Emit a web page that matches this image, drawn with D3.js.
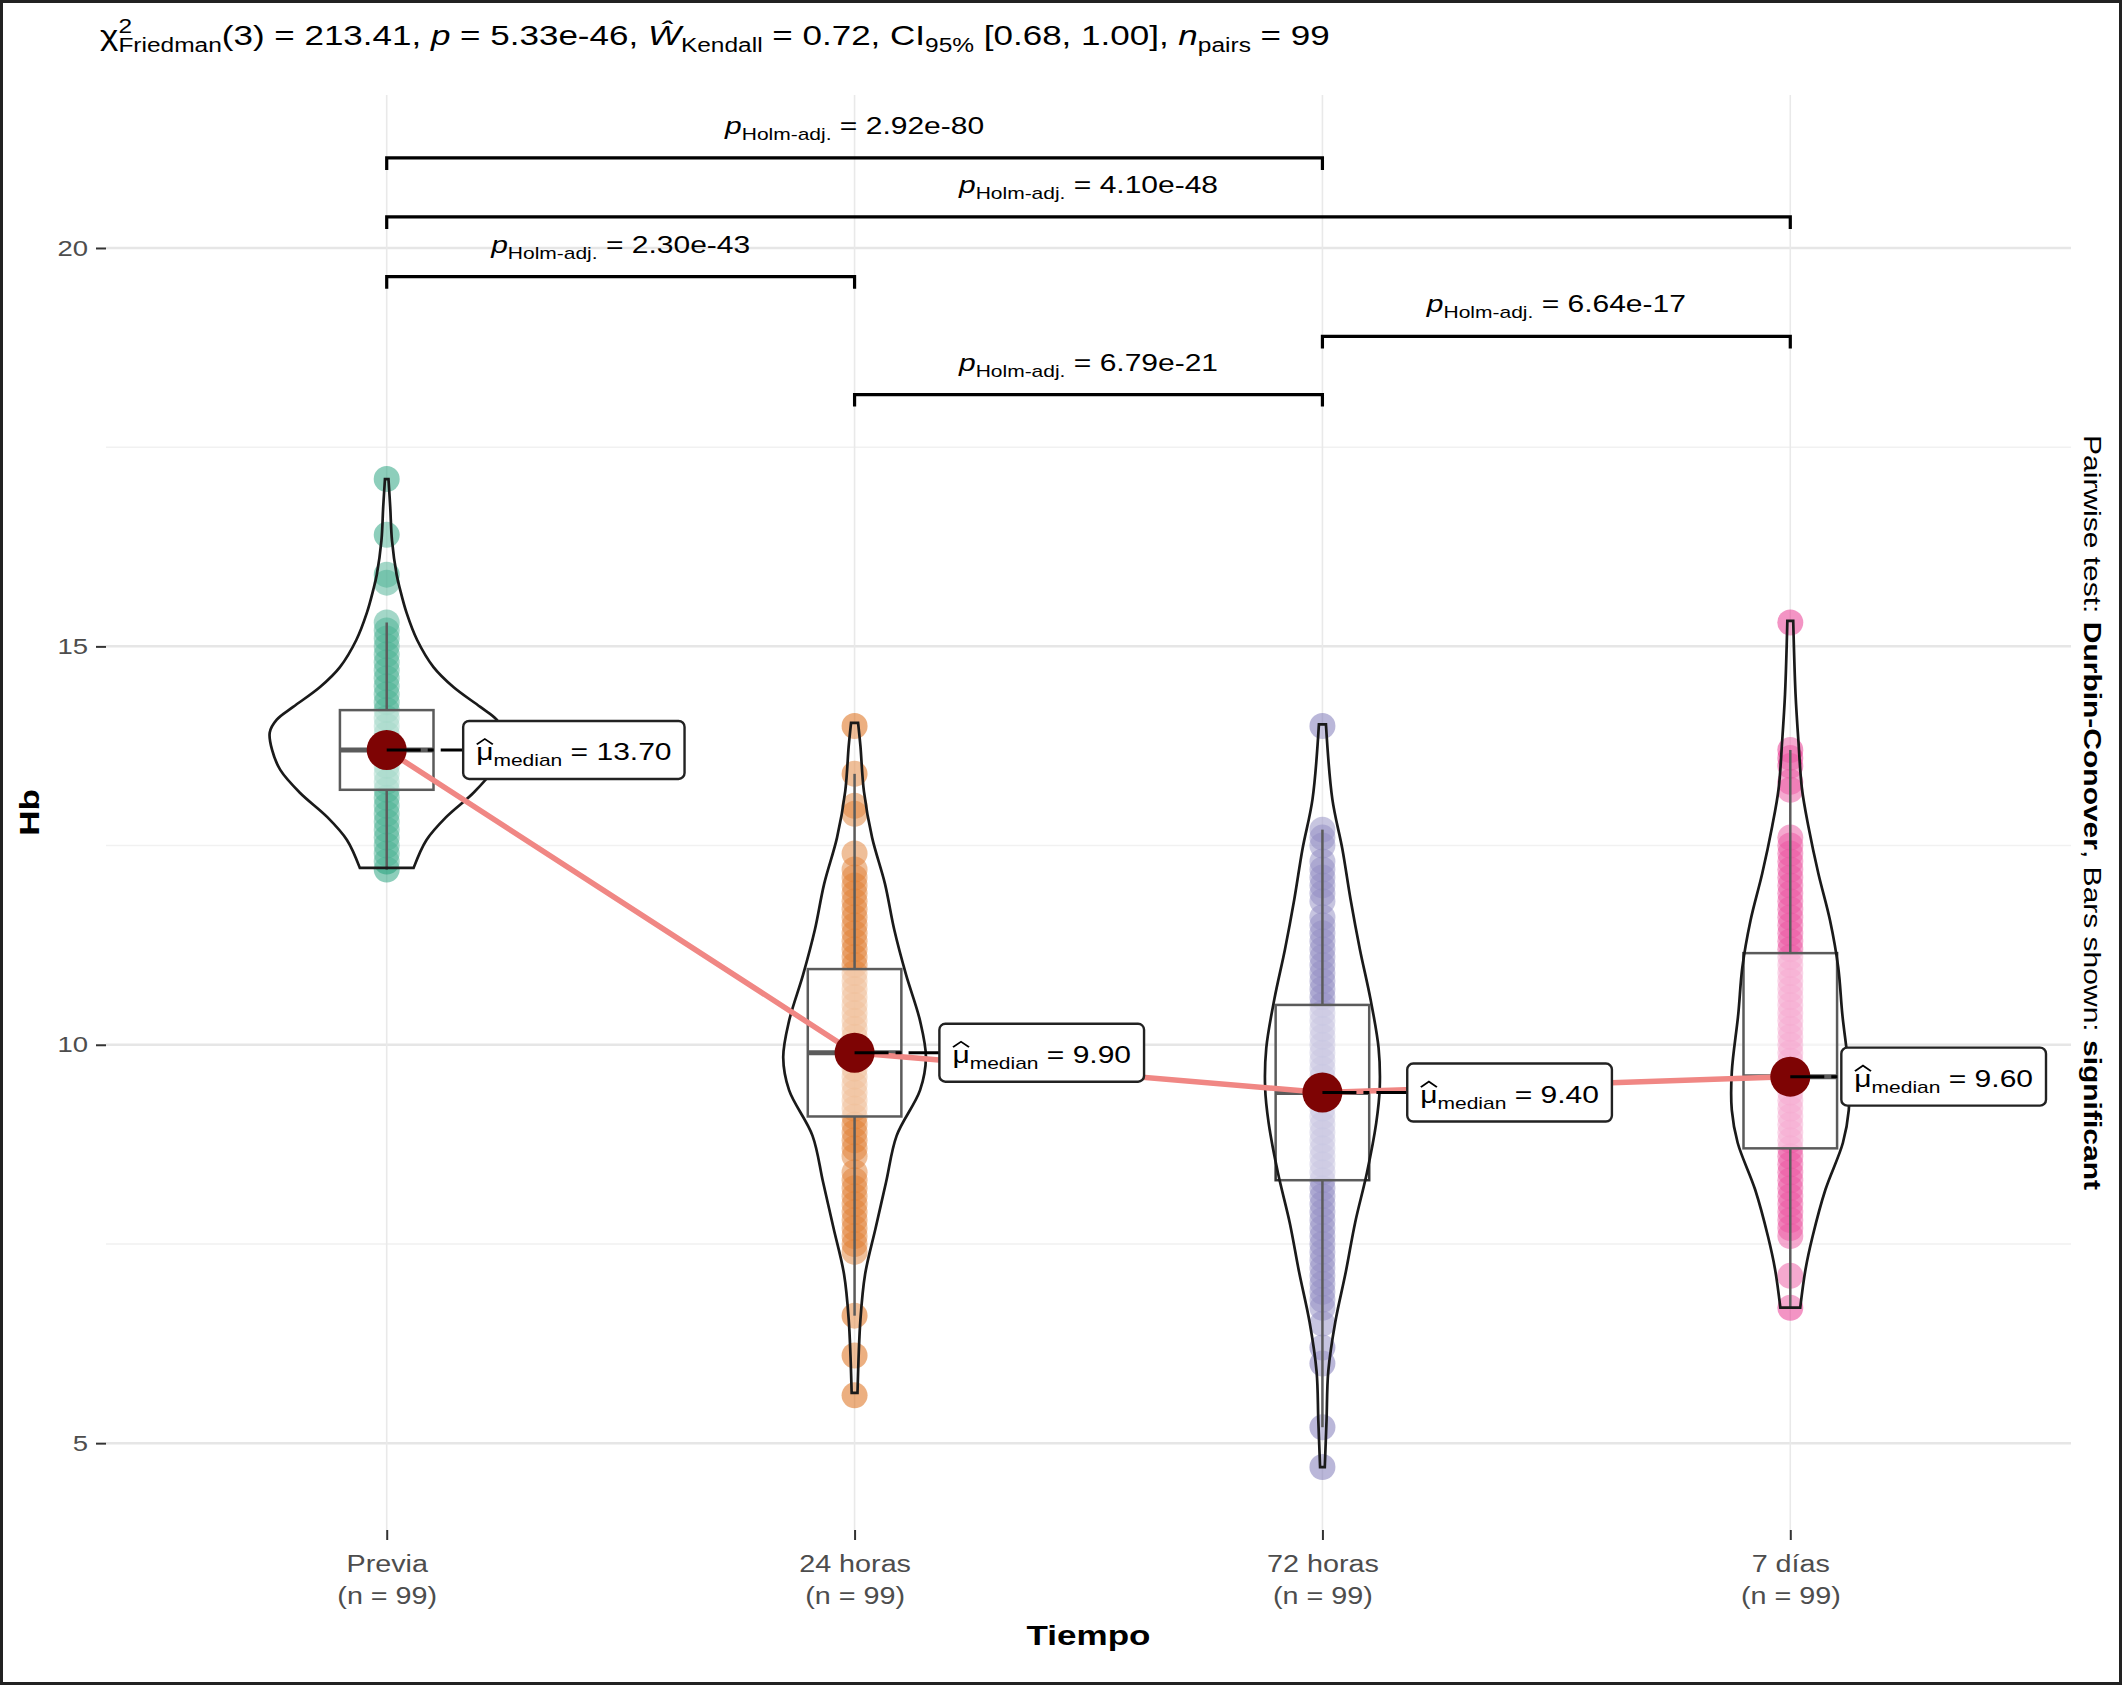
<!DOCTYPE html>
<html>
<head>
<meta charset="utf-8">
<script src="https://cdn.jsdelivr.net/npm/d3@7"></script>
<style>
  body { margin: 0; background: #fff; }
  text { white-space: pre; }
</style>
</head>
<body>
<svg id="chart"></svg>
<script>
// ---- data ----
const groups = ['Previa', '24 horas', '72 horas', '7 días'];
const nObs = [99, 99, 99, 99];
const medians = [13.7, 9.9, 9.4, 9.6];
const q1 = [13.2, 9.1, 8.3, 8.7];
const q3 = [14.2, 10.95, 10.5, 11.15];
const whiskerLo = [12.2, 6.6, 5.2, 6.7];
const whiskerHi = [15.3, 13.4, 12.7, 13.7];

// distinct Hb values seen as points in each group
const ptsPrevia = [12.2, 12.3, 12.4, 12.5, 12.6, 12.7, 12.8, 12.9, 13.0, 13.1, 13.2, 13.3, 13.4, 13.5,
  13.6, 13.7, 13.8, 13.9, 14.0, 14.1, 14.2, 14.3, 14.4, 14.5, 14.6, 14.7, 14.8, 14.9, 15.0, 15.1,
  15.2, 15.3, 15.8, 15.9, 16.4, 17.1];
const pts24h = [5.6, 6.1, 6.6, 7.4, 7.5, 7.6, 7.7, 7.8, 7.9, 8.0, 8.1, 8.2, 8.3, 8.4, 8.6, 8.7, 8.8,
  8.9, 9.0, 9.1, 9.2, 9.3, 9.4, 9.5, 9.6, 9.7, 9.8, 9.9, 10.0, 10.1, 10.2, 10.3, 10.4, 10.5, 10.6,
  10.7, 10.8, 10.9, 11.0, 11.1, 11.2, 11.3, 11.4, 11.5, 11.6, 11.7, 11.8, 11.9, 12.0, 12.1, 12.2,
  12.4, 12.9, 13.0, 13.4, 14.0];
const pts72h = [4.7, 5.2, 6.0, 6.2, 6.5, 6.7, 6.8, 6.9, 7.0, 7.1, 7.2, 7.3, 7.4, 7.5, 7.6, 7.7, 7.8,
  7.9, 8.0, 8.1, 8.2, 8.3, 8.4, 8.5, 8.6, 8.7, 8.8, 8.9, 9.0, 9.1, 9.2, 9.3, 9.4, 9.5, 9.6, 9.7,
  9.8, 9.9, 10.0, 10.1, 10.2, 10.3, 10.4, 10.5, 10.6, 10.7, 10.8, 10.9, 11.0, 11.1, 11.2, 11.3,
  11.4, 11.5, 11.6, 11.8, 11.9, 12.0, 12.1, 12.2, 12.3, 12.5, 12.6, 12.7, 14.0];
const pts7d = [6.7, 7.1, 7.6, 7.7, 7.8, 7.9, 8.0, 8.1, 8.2, 8.3, 8.4, 8.5, 8.6, 8.7, 8.8, 8.9, 9.0,
  9.1, 9.2, 9.3, 9.4, 9.5, 9.6, 9.7, 9.8, 9.9, 10.0, 10.1, 10.2, 10.3, 10.4, 10.5, 10.6, 10.7,
  10.8, 10.9, 11.0, 11.1, 11.2, 11.3, 11.4, 11.5, 11.6, 11.7, 11.8, 11.9, 12.0, 12.1, 12.2, 12.3,
  12.4, 12.5, 12.6, 13.2, 13.3, 13.5, 13.6, 13.7, 15.3];

// violin outline: [Hb, relative half width]
const violinPrevia = [[17.1, .015], [16.75, .03], [16.33, .045], [15.9, .085], [15.71, .115],
  [15.42, .17], [15.08, .26], [14.74, .40], [14.49, .57], [14.24, .80], [14.08, .94], [13.92, 1.0],
  [13.70, .98], [13.45, .91], [13.16, .74], [12.86, .51], [12.57, .34], [12.22, .23]];
const violin24h = [[14.04, .03], [13.75, .05], [13.18, .08], [12.6, .15], [12.02, .26], [11.44, .34],
  [10.88, .44], [10.3, .56], [9.84, .61], [9.43, .56], [8.86, .36], [8.28, .27], [7.7, .18],
  [7.12, .09], [6.55, .05], [5.63, .025]];
const violin72h = [[14.02, .03], [13.08, .085], [12.46, .17], [11.83, .24], [11.2, .32], [10.58, .41],
  [9.96, .48], [9.46, .49], [9.02, .46], [8.39, .38], [7.77, .28], [7.15, .20], [6.52, .11],
  [5.9, .05], [5.28, .035], [4.7, .02]];
const violin7d = [[15.32, .025], [14.4, .045], [13.8, .07], [13.21, .10], [12.74, .155], [12.15, .24],
  [11.56, .34], [10.97, .41], [10.38, .445], [9.66, .50], [9.18, .50], [8.77, .45], [8.18, .30],
  [7.59, .19], [7.18, .13], [6.7, .085]];

// pairwise comparisons
const pairFrom = [0, 0, 0, 2, 1];
const pairTo = [2, 3, 1, 3, 2];
const pLabels = ['2.92e-80', '4.10e-48', '2.30e-43', '6.64e-17', '6.79e-21'];
const bracketY = [21.13, 20.39, 19.64, 18.89, 18.16];

const yTicks = [5, 10, 15, 20];
const yMinor = [7.5, 12.5, 17.5];

// ---- drawing ----
const W = 2125, H = 1686;
const FONT = '"Liberation Sans", Arial, Helvetica, sans-serif';
const SX = 1.25; // text in the figure is set wide
const palette = ['#1B9E77', '#D95F02', '#7570B3', '#E7298A'];
const points = [ptsPrevia, pts24h, pts72h, pts7d];
const violins = [violinPrevia, violin24h, violin72h, violin7d];

let margin = {left: 106, right: W - 2071, top: 95, bottom: H - 1530};

let svg = d3.select('#chart').attr('width', W).attr('height', H)
  .attr('font-family', FONT);

svg.append('rect').attr('x', 1.5).attr('y', 1.5).attr('width', W - 6).attr('height', H - 4)
  .attr('fill', '#fff').attr('stroke', '#222').attr('stroke-width', 3);

let x = d3.scalePoint().domain(groups).range([margin.left, W - margin.right]).padding(0.6);
let y = d3.scaleLinear().domain([3.91, 21.92]).range([H - margin.bottom, margin.top]);

// wide text helper
function stext(parent, px, py, size, rot) {
  let g = parent.append('g')
    .attr('transform', `translate(${px},${py})` + (rot ? ` rotate(${rot})` : '') + ` scale(${SX},1)`);
  return g.append('text').attr('font-size', size);
}

// grid
let grid = svg.append('g');
grid.selectAll('.minor').data(yMinor).enter().append('line')
  .attr('x1', margin.left).attr('x2', W - margin.right)
  .attr('y1', d => y(d)).attr('y2', d => y(d))
  .attr('stroke', '#f1f1f1').attr('stroke-width', 1.5);
grid.selectAll('.major').data(yTicks).enter().append('line')
  .attr('x1', margin.left).attr('x2', W - margin.right)
  .attr('y1', d => y(d)).attr('y2', d => y(d))
  .attr('stroke', '#e6e6e6').attr('stroke-width', 2.5);
grid.selectAll('.vert').data(groups).enter().append('line')
  .attr('x1', d => x(d)).attr('x2', d => x(d))
  .attr('y1', margin.top).attr('y2', H - margin.bottom)
  .attr('stroke', '#e9e9e9').attr('stroke-width', 1.6);

// axes
let yAxis = svg.append('g').attr('transform', `translate(${margin.left},0)`)
  .call(d3.axisLeft(y).tickValues(yTicks).tickSize(10).tickPadding(8));
yAxis.select('.domain').remove();
yAxis.selectAll('line').attr('stroke', '#333').attr('stroke-width', 2);
yAxis.selectAll('text')
  .attr('font-size', 22).attr('font-family', FONT).attr('fill', '#4d4d4d')
  .attr('transform', `scale(${SX},1)`).attr('x', -18 / SX);

let xAxis = svg.append('g').attr('transform', `translate(0,${H - margin.bottom})`)
  .call(d3.axisBottom(x).tickSize(10).tickFormat(''));
xAxis.select('.domain').remove();
xAxis.selectAll('line').attr('stroke', '#333').attr('stroke-width', 2);
xAxis.selectAll('.tick').each(function(d, i) {
  let t1 = stext(d3.select(this), 0, 42, 23).attr('text-anchor', 'middle').attr('fill', '#4d4d4d');
  t1.text(d);
  let t2 = stext(d3.select(this), 0, 74, 23).attr('text-anchor', 'middle').attr('fill', '#4d4d4d');
  t2.text(`(n = ${nObs[i]})`);
});

// points
let halfMax = 0.25 * x.step();
let pg = svg.append('g');
groups.forEach((g, i) => {
  pg.append('g').selectAll('circle').data(points[i]).enter().append('circle')
    .attr('cx', x(g)).attr('cy', d => y(d)).attr('r', 13)
    .attr('fill', palette[i]).attr('fill-opacity', 0.5);
});

// boxplots
let bw = 0.1 * x.step();
let bg = svg.append('g').attr('stroke', '#333').attr('stroke-width', 2.5);
groups.forEach((g, i) => {
  let cx = x(g);
  bg.append('line').attr('x1', cx).attr('x2', cx).attr('y1', y(q3[i])).attr('y2', y(whiskerHi[i]));
  bg.append('line').attr('x1', cx).attr('x2', cx).attr('y1', y(q1[i])).attr('y2', y(whiskerLo[i]));
  bg.append('rect').attr('x', cx - bw).attr('width', 2 * bw)
    .attr('y', y(q3[i])).attr('height', y(q1[i]) - y(q3[i]))
    .attr('fill', '#fff').attr('fill-opacity', 0.5);
  bg.append('line').attr('x1', cx - bw).attr('x2', cx + bw)
    .attr('y1', y(medians[i])).attr('y2', y(medians[i])).attr('stroke-width', 5);
});

// violins
let vg = svg.append('g');
groups.forEach((g, i) => {
  let cx = x(g);
  let area = d3.area().curve(d3.curveCatmullRom)
    .y(d => y(d[0]))
    .x0(d => cx - d[1] * halfMax)
    .x1(d => cx + d[1] * halfMax);
  vg.append('path').attr('d', area(violins[i]))
    .attr('fill', '#fff').attr('fill-opacity', 0.2)
    .attr('stroke', '#1a1a1a').attr('stroke-width', 2.7);
});

// significance brackets
let sg = svg.append('g');
pLabels.forEach((lab, k) => {
  let xa = x(groups[pairFrom[k]]), xb = x(groups[pairTo[k]]);
  let yy = y(bracketY[k]);
  sg.append('path')
    .attr('d', `M${xa},${yy + 12}V${yy}H${xb}V${yy + 12}`)
    .attr('fill', 'none').attr('stroke', '#000').attr('stroke-width', 3.2);
  let t = stext(sg, (xa + xb) / 2, yy - 24, 24).attr('text-anchor', 'middle');
  t.append('tspan').attr('font-style', 'italic').text('p');
  t.append('tspan').attr('font-size', 16.8).attr('dy', 6).text('Holm-adj.');
  t.append('tspan').attr('dy', -6).text(' = ' + lab);
});

// centrality path + points + labels
let line = d3.line().x((d, i) => x(groups[i])).y(d => y(d));
svg.append('path').attr('d', line(medians))
  .attr('fill', 'none').attr('stroke', '#f08784').attr('stroke-width', 5.5);

let cg = svg.append('g');
medians.forEach((m, i) => {
  cg.append('circle').attr('cx', x(groups[i])).attr('cy', y(m)).attr('r', 20).attr('fill', '#7e0404');
});

let lg = svg.append('g');
medians.forEach((m, i) => {
  let cx = x(groups[i]), cy = y(m);
  let seg = lg.append('line').attr('x1', cx).attr('y1', cy).attr('y2', cy)
    .attr('stroke', '#000').attr('stroke-width', 3).attr('stroke-dasharray', '34,7,6,7');
  let box = lg.append('rect').attr('rx', 6).attr('ry', 6)
    .attr('fill', '#fff').attr('stroke', '#222').attr('stroke-width', 2.4);
  let tg = lg.append('g');
  let t = tg.append('text').attr('font-size', 24);
  let mu = t.append('tspan').text('\u03BC');
  t.append('tspan').attr('font-size', 16.8).attr('dy', 6).text('median');
  t.append('tspan').attr('dy', -6).text(' = ' + m.toFixed(2));
  let muW = mu.node().getComputedTextLength();
  // wide hat over mu
  tg.append('path')
    .attr('d', `M0.5,-15.5L${muW / 2},-21L${muW - 0.5},-15.5`)
    .attr('fill', 'none').attr('stroke', '#000').attr('stroke-width', 1.6);
  let tw = t.node().getComputedTextLength() * SX;
  let bwid = tw + 26;
  let lx = Math.min(cx + 0.4 * x.step(), W - margin.right - 25 - bwid / 2);
  tg.attr('transform', `translate(${lx - tw / 2},${cy + 10}) scale(${SX},1)`);
  box.attr('x', lx - bwid / 2).attr('y', cy - 29).attr('width', bwid).attr('height', 58);
  seg.attr('x2', lx - bwid / 2);
});

// title
let tt = stext(svg, 100, 45, 28);
tt.append('tspan').text('\u03C7');
tt.append('tspan').attr('font-size', 19.6).attr('dy', -12).text('2');
tt.append('tspan').attr('font-size', 19.6).attr('dx', -0.556 * 19.6).attr('dy', 19).text('Friedman');
tt.append('tspan').attr('dy', -7).text('(3) = 213.41, ');
tt.append('tspan').attr('font-style', 'italic').text('p');
tt.append('tspan').text(' = 5.33e-46, ');
tt.append('tspan').attr('font-style', 'italic').text('\u0174');
tt.append('tspan').attr('font-size', 19.6).attr('dy', 7).text('Kendall');
tt.append('tspan').attr('dy', -7).text(' = 0.72, CI');
tt.append('tspan').attr('font-size', 19.6).attr('dy', 7).text('95%');
tt.append('tspan').attr('dy', -7).text(' [0.68, 1.00], ');
tt.append('tspan').attr('font-style', 'italic').text('n');
tt.append('tspan').attr('font-size', 19.6).attr('dy', 7).text('pairs');
tt.append('tspan').attr('dy', -7).text(' = 99');

// axis titles
stext(svg, (margin.left + W - margin.right) / 2, 1645, 28)
  .attr('text-anchor', 'middle').attr('font-weight', 'bold').text('Tiempo');
stext(svg, 29, (margin.top + H - margin.bottom) / 2, 28, -90)
  .attr('text-anchor', 'middle').attr('dominant-baseline', 'central').attr('font-weight', 'bold').text('Hb');

// caption on the right
let cap = stext(svg, 2093, (margin.top + H - margin.bottom) / 2, 24, 90)
  .attr('text-anchor', 'middle').attr('dominant-baseline', 'central');
cap.append('tspan').text('Pairwise test: ');
cap.append('tspan').attr('font-weight', 'bold').text('Durbin-Conover');
cap.append('tspan').text(', Bars shown: ');
cap.append('tspan').attr('font-weight', 'bold').text('significant');
</script>
</body>
</html>
